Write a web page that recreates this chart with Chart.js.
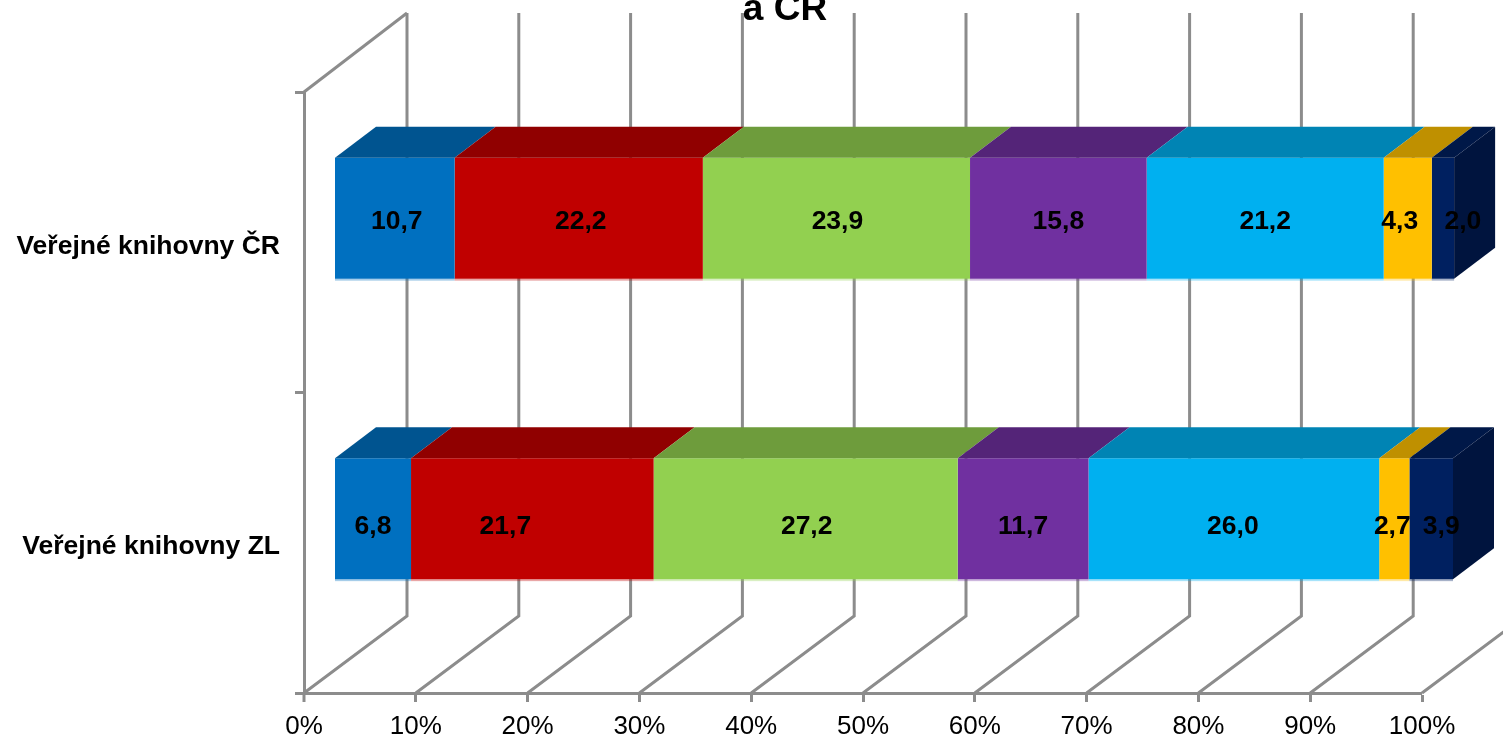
<!DOCTYPE html>
<html lang="cs">
<head>
  <meta charset="UTF-8">
  <title>Veřejné knihovny</title>
  <script src="https://cdn.jsdelivr.net/npm/chart.js"></script>
  <style>
    html, body { margin: 0; padding: 0; background: #fff; overflow: hidden; }
    canvas { display: block; }
  </style>
</head>
<body>
  <canvas id="libChart" width="1503" height="739"></canvas>

  <script>
    const categories = ['Veřejné knihovny ČR', 'Veřejné knihovny ZL'];
    const titleText = 'a ČR';

    const blueValues = [10.7, 6.8];
    const redValues = [22.2, 21.7];
    const greenValues = [23.9, 27.2];
    const purpleValues = [15.8, 11.7];
    const cyanValues = [21.2, 26.0];
    const yellowValues = [4.3, 2.7];
    const navyValues = [2.0, 3.9];

    const seriesValues = [blueValues, redValues, greenValues, purpleValues, cyanValues, yellowValues, navyValues];
    const faceColors = ['#0070c0', '#c00000', '#92d050', '#7030a0', '#00b0f0', '#ffc000', '#002060'];
    const topColors = ['#005490', '#900000', '#6e9c3c', '#542478', '#0084b4', '#bf9000', '#001848'];
    const sideColor = '#00143e';

    const tickValues = [0, 10, 20, 30, 40, 50, 60, 70, 80, 90, 100];

    // fake 3D: the whole depth of the floor, and where the bars sit in it
    const floorDepth = { x: 103, y: -77 };
    const wallTopRise = -79;
    const barFront = { x: 31, y: -24 };
    const barDepth = { x: 41, y: -31 };

    // Excel did not centre every label on its bar, [series][category] px
    const labelShiftX = [[2, 0], [2, -27], [1, 1], [0, 0], [0, -1], [-8, -2], [20, 10]];
    const labelShiftY = [3, 8];

    const gridColor = '#8c8c8c';
    const tickLength = 9;

    const fake3d = {
      id: 'fake3d',
      beforeDatasetsDraw(chart) {
        const { ctx, scales: { x, y } } = chart;
        ctx.save();
        ctx.strokeStyle = gridColor;
        ctx.lineWidth = 3;
        tickValues.forEach(v => {
          const px = x.getPixelForValue(v);
          ctx.beginPath();
          ctx.moveTo(px, y.bottom);
          ctx.lineTo(px + floorDepth.x, y.bottom + floorDepth.y);
          ctx.lineTo(px + floorDepth.x, y.top + wallTopRise);
          ctx.stroke();
        });
        // left wall top edge
        ctx.beginPath();
        ctx.moveTo(x.left, y.top);
        ctx.lineTo(x.left + floorDepth.x, y.top + wallTopRise);
        ctx.stroke();
        // tick at 0% is switched off on the axis, see grid.lineWidth below
        ctx.beginPath();
        ctx.moveTo(x.left, y.bottom);
        ctx.lineTo(x.left, y.bottom + tickLength);
        ctx.stroke();
        ctx.restore();

        // bars are drawn by the library, only pushed into the depth
        ctx.save();
        ctx.translate(barFront.x, barFront.y);
      },
      afterDatasetsDraw(chart) {
        const { ctx } = chart;
        ctx.restore();
        ctx.save();

        chart.data.datasets.forEach((ds, i) => {
          chart.getDatasetMeta(i).data.forEach(bar => {
            const x0 = bar.base + barFront.x;
            const x1 = bar.x + barFront.x;
            const top = bar.y - bar.height / 2 + barFront.y;
            const bottom = bar.y + bar.height / 2 + barFront.y;

            ctx.fillStyle = topColors[i];
            ctx.beginPath();
            ctx.moveTo(x0, top);
            ctx.lineTo(x1, top);
            ctx.lineTo(x1 + barDepth.x, top + barDepth.y);
            ctx.lineTo(x0 + barDepth.x, top + barDepth.y);
            ctx.closePath();
            ctx.fill();

            // pale line under the front face
            ctx.globalAlpha = 0.35;
            ctx.fillStyle = faceColors[i];
            ctx.fillRect(x0, bottom, x1 - x0, 2);
            ctx.globalAlpha = 1;

            if (i === chart.data.datasets.length - 1) {
              ctx.fillStyle = sideColor;
              ctx.beginPath();
              ctx.moveTo(x1, top);
              ctx.lineTo(x1 + barDepth.x, top + barDepth.y);
              ctx.lineTo(x1 + barDepth.x, bottom + barDepth.y);
              ctx.lineTo(x1, bottom);
              ctx.closePath();
              ctx.fill();
            }
          });
        });

        ctx.fillStyle = '#000';
        ctx.font = 'bold 26.5px "Liberation Sans", Arial, sans-serif';
        ctx.textAlign = 'center';
        ctx.textBaseline = 'middle';
        chart.data.datasets.forEach((ds, i) => {
          chart.getDatasetMeta(i).data.forEach((bar, j) => {
            const label = ds.data[j].toFixed(1).replace('.', ',');
            const mid = (bar.base + bar.x) / 2 + barFront.x + labelShiftX[i][j];
            ctx.fillText(label, mid, bar.y + barFront.y + labelShiftY[j]);
          });
        });

        // title is cut off by the top of the picture in the original
        ctx.font = 'bold 37px "Liberation Sans", Arial, sans-serif';
        ctx.textBaseline = 'alphabetic';
        ctx.fillText(titleText, 785, 20);
        ctx.restore();
      }
    };

    new Chart(document.getElementById('libChart').getContext('2d'), {
      type: 'bar',
      data: {
        labels: categories,
        datasets: seriesValues.map((values, i) => ({
          data: values,
          backgroundColor: faceColors[i],
          borderWidth: 0,
          clip: false,
          barPercentage: 0.402,
          categoryPercentage: 1
        }))
      },
      options: {
        indexAxis: 'y',
        responsive: false,
        animation: false,
        events: [],
        layout: { padding: { top: 92, right: 81, left: 0, bottom: 0 } },
        plugins: {
          legend: { display: false },
          title: { display: false },
          tooltip: { enabled: false }
        },
        scales: {
          x: {
            stacked: true,
            min: 0,
            max: 100,
            afterFit(scale) { scale.height = 46; },
            afterBuildTicks(scale) { scale.ticks = tickValues.map(v => ({ value: v })); },
            border: { color: gridColor, width: 3 },
            grid: {
              drawOnChartArea: false,
              color: gridColor,
              // a line at the base value makes Chart.js trim the first bar
              lineWidth: c => (c.tick && c.tick.value === 0 ? 0 : 3),
              tickLength: tickLength
            },
            ticks: {
              color: '#000',
              padding: 9,
              maxRotation: 0,
              font: { family: '"Liberation Sans", Arial, sans-serif', size: 26 },
              callback: v => v + '%'
            }
          },
          y: {
            stacked: true,
            afterFit(scale) { scale.width = 304; },
            border: { color: gridColor, width: 3 },
            grid: { drawOnChartArea: false, color: gridColor, lineWidth: 3, tickLength: tickLength },
            ticks: {
              color: '#000',
              padding: 15,
              labelOffset: 4,
              font: { family: '"Liberation Sans", Arial, sans-serif', size: 26.5, weight: 'bold' }
            }
          }
        }
      },
      plugins: [fake3d]
    });
  </script>
</body>
</html>
